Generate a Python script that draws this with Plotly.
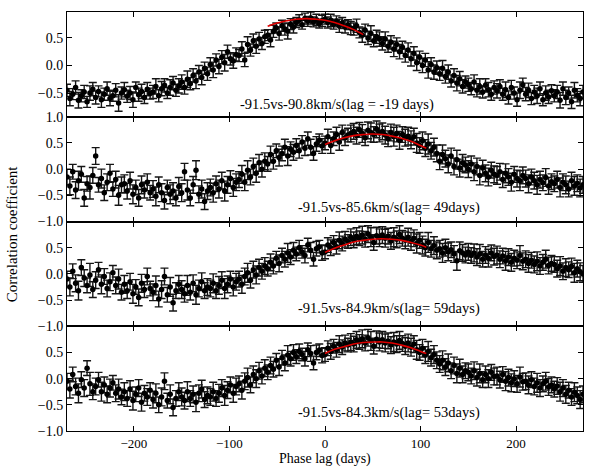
import plotly.graph_objects as go
from plotly.subplots import make_subplots

# Phase lag grid (days)
LAGS = list(range(-270, 271, 3))

# Correlation coefficients, panel 1 (-91.5 vs -90.8 km/s)
CC1 = [-0.45, -0.60, -0.52, -0.40, -0.63, -0.55, -0.48, -0.66, -0.50, -0.43,
       -0.58, -0.47, -0.62, -0.52, -0.42, -0.60, -0.55, -0.45, -0.68, -0.50,
       -0.44, -0.56, -0.50, -0.62, -0.40, -0.53, -0.47, -0.58, -0.43, -0.51,
       -0.48, -0.38, -0.55, -0.42, -0.36, -0.50, -0.40, -0.32, -0.45, -0.37,
       -0.30, -0.40, -0.25, -0.33, -0.18, -0.28, -0.12, -0.22, -0.05, -0.15,
       0.02, -0.08, 0.10, -0.02, 0.15, 0.05, 0.25, 0.12, 0.08, 0.20,
       0.18, 0.30, 0.10, 0.38, 0.28, 0.45, 0.35, 0.48, 0.40, 0.52,
       0.55, 0.46, 0.62, 0.68, 0.58, 0.72, 0.66, 0.62, 0.75, 0.70,
       0.78, 0.82, 0.74, 0.85, 0.80, 0.86, 0.79, 0.83, 0.76, 0.81,
       0.84, 0.78, 0.82, 0.75, 0.80, 0.72, 0.77, 0.70, 0.74, 0.68,
       0.66, 0.72, 0.60, 0.55, 0.64, 0.50, 0.58, 0.45, 0.52, 0.48,
       0.40, 0.48, 0.35, 0.42, 0.30, 0.38, 0.25, 0.33, 0.18, 0.28,
       0.12, 0.22, 0.05, 0.15, 0.00, 0.10, -0.08, 0.02, -0.12, -0.04,
       -0.15, -0.05, -0.20, -0.12, -0.28, -0.18, -0.32, -0.24, -0.38, -0.30,
       -0.35, -0.42, -0.30, -0.45, -0.38, -0.48, -0.36, -0.44, -0.52, -0.40,
       -0.46, -0.38, -0.52, -0.44, -0.58, -0.40, -0.50, -0.62, -0.45, -0.35,
       -0.52, -0.45, -0.60, -0.48, -0.55, -0.42, -0.62, -0.50, -0.57, -0.46,
       -0.55, -0.48, -0.63, -0.42, -0.58, -0.50, -0.66, -0.45, -0.54, -0.60,
       -0.48]

# Panel 2 (-91.5 vs -85.6 km/s)
CC2 = [-0.15, -0.32, -0.05, -0.40, -0.22, -0.10, -0.55, -0.28, -0.35, -0.12,
       0.25, -0.30, -0.18, -0.45, -0.25, -0.08, -0.38, -0.20, -0.50, -0.30,
       -0.28, -0.42, -0.22, -0.48, -0.35, -0.55, -0.30, -0.40, -0.25, -0.45,
       -0.38, -0.52, -0.30, -0.45, -0.60, -0.35, -0.48, -0.42, -0.55, -0.33,
       -0.45, -0.05, -0.40, -0.55, -0.30, -0.02, -0.48, -0.38, -0.62, -0.42,
       -0.35, -0.45, -0.28, -0.38, -0.22, -0.42, -0.30, -0.18, -0.35, -0.25,
       -0.20, -0.10, -0.25, -0.02, -0.15, 0.05, -0.08, 0.12, 0.00, 0.15,
       0.10, 0.28, 0.15, 0.35, 0.22, 0.30, 0.42, 0.25, 0.38, 0.32,
       0.45, 0.35, 0.52, 0.40, 0.58, 0.42, 0.30, 0.48, 0.55, 0.44,
       0.50, 0.62, 0.45, 0.58, 0.66, 0.52, 0.70, 0.60, 0.65, 0.68,
       0.72, 0.64, 0.75, 0.68, 0.60, 0.74, 0.70, 0.66, 0.76, 0.69,
       0.72, 0.65, 0.58, 0.70, 0.62, 0.68, 0.55, 0.66, 0.60, 0.63,
       0.56, 0.62, 0.50, 0.45, 0.54, 0.40, 0.48, 0.35, 0.42, 0.30,
       0.15, 0.28, 0.20, 0.10, 0.25, 0.05, 0.18, 0.02, 0.12, 0.08,
       0.00, 0.10, -0.05, 0.05, -0.12, 0.02, -0.08, -0.15, -0.02, -0.10,
       -0.12, -0.05, -0.20, -0.08, -0.15, -0.25, -0.10, -0.18, -0.22, -0.12,
       -0.18, -0.28, -0.15, -0.22, -0.30, -0.20, -0.26, -0.16, -0.32, -0.24,
       -0.28, -0.20, -0.35, -0.25, -0.30, -0.38, -0.22, -0.32, -0.27, -0.36,
       -0.30]

# Panel 3 (-91.5 vs -84.9 km/s)
CC3 = [-0.10, -0.25, 0.05, -0.18, -0.32, 0.12, -0.08, -0.22, -0.02, -0.30,
       -0.12, 0.08, -0.20, -0.05, -0.28, -0.15, 0.02, -0.22, -0.10, -0.35,
       -0.20, -0.32, -0.15, -0.38, -0.25, -0.45, -0.18, -0.30, -0.05, -0.28,
       -0.35, -0.22, -0.48, -0.30, -0.05, -0.40, -0.25, -0.55, -0.32, -0.20,
       -0.30, -0.38, -0.22, -0.35, -0.18, -0.40, -0.28, -0.15, -0.32, -0.25,
       -0.28, -0.18, -0.32, -0.22, -0.12, -0.28, -0.20, -0.10, -0.25, -0.15,
       -0.10, -0.20, -0.05, 0.02, -0.12, 0.08, -0.02, 0.12, 0.05, 0.15,
       0.10, 0.22, 0.15, 0.30, 0.20, 0.35, 0.28, 0.40, 0.32, 0.45,
       0.38, 0.50, 0.42, 0.35, 0.55, 0.45, 0.28, 0.48, 0.52, 0.40,
       0.42, 0.55, 0.50, 0.60, 0.52, 0.64, 0.58, 0.66, 0.62, 0.70,
       0.65, 0.72, 0.68, 0.74, 0.66, 0.76, 0.70, 0.60, 0.73, 0.69,
       0.74, 0.68, 0.72, 0.63, 0.70, 0.66, 0.75, 0.68, 0.64, 0.70,
       0.62, 0.68, 0.58, 0.64, 0.55, 0.50, 0.60, 0.48, 0.54, 0.45,
       0.48, 0.40, 0.50, 0.42, 0.46, 0.38, 0.25, 0.44, 0.40, 0.36,
       0.42, 0.35, 0.40, 0.32, 0.38, 0.28, 0.36, 0.30, 0.40, 0.33,
       0.36, 0.28, 0.34, 0.25, 0.32, 0.22, 0.30, 0.26, 0.35, 0.24,
       0.28, 0.20, 0.26, 0.18, 0.24, 0.15, 0.22, 0.28, 0.16, 0.20,
       0.18, 0.10, 0.15, 0.05, 0.12, 0.08, 0.14, 0.02, 0.10, 0.04,
       0.00]

# Panel 4 (-91.5 vs -84.3 km/s)
CC4 = [-0.05, -0.20, 0.08, -0.15, -0.28, -0.02, -0.18, 0.20, -0.10, -0.25,
       -0.15, -0.02, -0.25, -0.12, -0.30, -0.18, -0.08, -0.28, -0.20, -0.35,
       -0.25, -0.38, -0.20, -0.42, -0.30, -0.18, -0.45, -0.28, -0.35, -0.22,
       -0.40, -0.28, -0.50, -0.35, -0.05, -0.42, -0.30, -0.55, -0.38, -0.25,
       -0.35, -0.42, -0.25, -0.38, -0.30, -0.45, -0.28, -0.20, -0.40, -0.32,
       -0.35, -0.25, -0.38, -0.28, -0.18, -0.32, -0.22, -0.12, -0.28, -0.15,
       -0.10, -0.22, -0.05, 0.02, -0.12, 0.08, 0.00, 0.15, 0.05, 0.20,
       0.12, 0.25, 0.18, 0.35, 0.22, 0.40, 0.30, 0.45, 0.38, 0.50,
       0.42, 0.52, 0.46, 0.38, 0.55, 0.48, 0.30, 0.50, 0.54, 0.44,
       0.46, 0.58, 0.52, 0.62, 0.55, 0.66, 0.60, 0.68, 0.64, 0.70,
       0.66, 0.74, 0.70, 0.76, 0.68, 0.78, 0.72, 0.62, 0.75, 0.70,
       0.74, 0.68, 0.72, 0.64, 0.70, 0.66, 0.73, 0.67, 0.62, 0.68,
       0.60, 0.66, 0.55, 0.50, 0.58, 0.45, 0.52, 0.40, 0.46, 0.35,
       0.28, 0.35, 0.22, 0.30, 0.15, 0.25, 0.10, 0.20, 0.08, 0.15,
       0.12, 0.05, 0.15, 0.02, 0.10, -0.02, 0.08, 0.00, 0.12, 0.04,
       0.05, -0.02, 0.08, -0.05, 0.02, -0.08, 0.00, -0.10, 0.03, -0.06,
       -0.05, -0.12, -0.02, -0.15, -0.08, -0.18, -0.10, -0.05, -0.16, -0.12,
       -0.20, -0.14, -0.25, -0.18, -0.30, -0.22, -0.35, -0.26, -0.32, -0.40,
       -0.30]

# Error bar half-lengths (panel 1, and panels 2-4)
ERR_A = [0.11, 0.13, 0.10, 0.12, 0.14, 0.11, 0.12, 0.10, 0.13, 0.12,
         0.12, 0.10, 0.14, 0.11, 0.12, 0.13, 0.10, 0.12, 0.15, 0.11,
         0.13, 0.11, 0.12, 0.14, 0.10, 0.12, 0.13, 0.11, 0.12, 0.10,
         0.12, 0.14, 0.11, 0.13, 0.12, 0.10, 0.14, 0.12, 0.11, 0.13,
         0.13, 0.12, 0.15, 0.11, 0.12, 0.14, 0.12, 0.13, 0.11, 0.12,
         0.12, 0.14, 0.11, 0.13, 0.12, 0.15, 0.12, 0.11, 0.13, 0.12,
         0.11, 0.13, 0.12, 0.14, 0.11, 0.12, 0.13, 0.12, 0.11, 0.12,
         0.10, 0.12, 0.11, 0.09, 0.12, 0.10, 0.11, 0.14, 0.10, 0.11,
         0.09, 0.10, 0.08, 0.10, 0.09, 0.11, 0.09, 0.10, 0.08, 0.10,
         0.09, 0.10, 0.11, 0.09, 0.10, 0.12, 0.10, 0.11, 0.09, 0.12,
         0.11, 0.12, 0.10, 0.13, 0.11, 0.12, 0.14, 0.11, 0.12, 0.13,
         0.12, 0.13, 0.11, 0.12, 0.14, 0.12, 0.13, 0.11, 0.12, 0.13,
         0.13, 0.12, 0.14, 0.11, 0.13, 0.12, 0.15, 0.12, 0.13, 0.12,
         0.12, 0.14, 0.12, 0.13, 0.11, 0.12, 0.14, 0.13, 0.12, 0.11,
         0.12, 0.11, 0.13, 0.12, 0.14, 0.11, 0.12, 0.13, 0.11, 0.12,
         0.13, 0.12, 0.11, 0.14, 0.12, 0.13, 0.11, 0.12, 0.15, 0.12,
         0.12, 0.13, 0.11, 0.12, 0.14, 0.12, 0.11, 0.13, 0.12, 0.11,
         0.11, 0.12, 0.14, 0.12, 0.13, 0.11, 0.12, 0.14, 0.12, 0.13,
         0.12]
ERR_B = [0.15, 0.17, 0.14, 0.16, 0.18, 0.15, 0.16, 0.14, 0.22, 0.15,
         0.16, 0.14, 0.18, 0.15, 0.16, 0.17, 0.14, 0.16, 0.19, 0.15,
         0.17, 0.15, 0.16, 0.18, 0.14, 0.16, 0.17, 0.15, 0.16, 0.14,
         0.16, 0.18, 0.15, 0.17, 0.16, 0.14, 0.18, 0.16, 0.15, 0.17,
         0.17, 0.16, 0.19, 0.15, 0.16, 0.18, 0.16, 0.17, 0.15, 0.16,
         0.16, 0.18, 0.15, 0.17, 0.16, 0.19, 0.16, 0.15, 0.17, 0.16,
         0.15, 0.17, 0.16, 0.18, 0.15, 0.16, 0.17, 0.16, 0.15, 0.16,
         0.14, 0.16, 0.15, 0.13, 0.16, 0.14, 0.15, 0.18, 0.14, 0.15,
         0.13, 0.14, 0.12, 0.14, 0.13, 0.15, 0.13, 0.14, 0.12, 0.14,
         0.13, 0.14, 0.15, 0.13, 0.14, 0.16, 0.14, 0.15, 0.13, 0.16,
         0.15, 0.16, 0.14, 0.17, 0.15, 0.16, 0.18, 0.15, 0.16, 0.17,
         0.16, 0.17, 0.15, 0.16, 0.18, 0.16, 0.17, 0.15, 0.16, 0.17,
         0.17, 0.16, 0.18, 0.15, 0.17, 0.16, 0.19, 0.16, 0.17, 0.16,
         0.16, 0.18, 0.16, 0.17, 0.15, 0.16, 0.18, 0.17, 0.16, 0.15,
         0.16, 0.15, 0.17, 0.16, 0.18, 0.15, 0.16, 0.17, 0.15, 0.16,
         0.17, 0.16, 0.15, 0.18, 0.16, 0.17, 0.15, 0.16, 0.19, 0.16,
         0.16, 0.17, 0.15, 0.16, 0.18, 0.16, 0.15, 0.17, 0.16, 0.15,
         0.15, 0.16, 0.18, 0.16, 0.17, 0.15, 0.16, 0.18, 0.16, 0.17,
         0.16]

# Red fitted peaks (lag, value)
FIT1_X = [-60, -50, -40, -30, -19, -10, 0, 10, 20, 30, 40]
FIT1_Y = [0.71, 0.77, 0.81, 0.84, 0.85, 0.84, 0.82, 0.78, 0.72, 0.65, 0.56]
FIT2_X = [0, 10, 20, 30, 40, 49, 60, 70, 80, 90, 100, 106]
FIT2_Y = [0.47, 0.54, 0.60, 0.64, 0.66, 0.67, 0.66, 0.63, 0.59, 0.53, 0.45, 0.40]
FIT3_X = [0, 10, 20, 30, 40, 50, 59, 70, 80, 90, 100, 106]
FIT3_Y = [0.41, 0.49, 0.55, 0.61, 0.64, 0.66, 0.67, 0.66, 0.64, 0.60, 0.55, 0.51]
FIT4_X = [0, 10, 20, 30, 40, 53, 60, 70, 80, 90, 100, 106]
FIT4_Y = [0.48, 0.56, 0.61, 0.66, 0.69, 0.70, 0.70, 0.68, 0.64, 0.59, 0.52, 0.48]

LABELS = ["-91.5vs-90.8km/s(lag = -19 days)",
          "-91.5vs-85.6km/s(lag= 49days)",
          "-91.5vs-84.9km/s(lag= 59days)",
          "-91.5vs-84.3km/s(lag= 53days)"]
LABEL_X = [13, 67, 67, 67]
LABEL_Y = [-0.70, -0.74, -0.67, -0.64]

Y_RANGES = [[-0.93, 0.97], [-1.0, 1.0], [-1.0, 1.0], [-1.0, 1.0]]
Y_TICKS = [[-0.5, 0.0, 0.5], [-1.0, -0.5, 0.0, 0.5, 1.0],
           [-1.0, -0.5, 0.0, 0.5], [-1.0, -0.5, 0.0, 0.5]]
X_TICKS = [-200, -100, 0, 100, 200]

FONT = "Liberation Serif, Times New Roman, serif"

series = [CC1, CC2, CC3, CC4]
errors = [ERR_A, ERR_B, ERR_B, ERR_B]
fits = [(FIT1_X, FIT1_Y), (FIT2_X, FIT2_Y), (FIT3_X, FIT3_Y), (FIT4_X, FIT4_Y)]

fig = make_subplots(rows=4, cols=1, shared_xaxes=True, vertical_spacing=0)

for i in range(4):
    r = i + 1
    fig.add_trace(go.Scatter(
        x=LAGS, y=series[i], mode="markers",
        marker=dict(color="black", size=5.5),
        error_y=dict(type="data", array=errors[i], color="#151515", thickness=1.4, width=4),
        showlegend=False), row=r, col=1)
    fig.add_trace(go.Scatter(
        x=fits[i][0], y=fits[i][1], mode="lines", line_shape="spline",
        line=dict(color="#e00000", width=1.6), showlegend=False), row=r, col=1)
    fig.add_annotation(x=LABEL_X[i], y=LABEL_Y[i], text=LABELS[i], showarrow=False,
                       font=dict(family=FONT, size=14.5, color="black"),
                       xref=f"x{'' if r == 1 else r}", yref=f"y{'' if r == 1 else r}")
    fig.update_yaxes(range=Y_RANGES[i], tickvals=Y_TICKS[i], tickformat=".1f",
                     row=r, col=1)

n = 4
for i in range(4):
    top = 1 - i / n
    bot = 1 - (i + 1) / n
    key = "yaxis" if i == 0 else f"yaxis{i + 1}"
    fig.layout[key].domain = [bot, top]

fig.update_xaxes(range=[-270, 270], tickvals=X_TICKS, ticks="inside", ticklen=5,
                 showline=True, linecolor="black", linewidth=1, mirror="allticks",
                 showgrid=False, zeroline=False, tickcolor="black",
                 tickfont=dict(family=FONT, size=13, color="black"))
fig.update_yaxes(ticks="inside", ticklen=5, showline=True, linecolor="black",
                 linewidth=1, mirror="allticks", showgrid=False, zeroline=False,
                 tickcolor="black", tickfont=dict(family=FONT, size=14, color="black"))

# Axis titles as paper annotations
fig.add_annotation(x=0.5, y=-0.0892, xref="paper", yref="paper", yanchor="bottom",
                   text="Phase lag (days)", showarrow=False, borderpad=0,
                   font=dict(family=FONT, size=14, color="black"))
fig.add_annotation(x=-0.106, y=0.47, xref="paper", yref="paper", xanchor="center",
                   text="Correlation coefficient", textangle=-90, showarrow=False,
                   font=dict(family=FONT, size=15, color="black"))

fig.update_layout(width=589, height=469, margin=dict(l=67, r=6, t=5, b=38),
                  plot_bgcolor="white", paper_bgcolor="white",
                  font=dict(family=FONT, color="black"))

fig.write_html("out.html")
